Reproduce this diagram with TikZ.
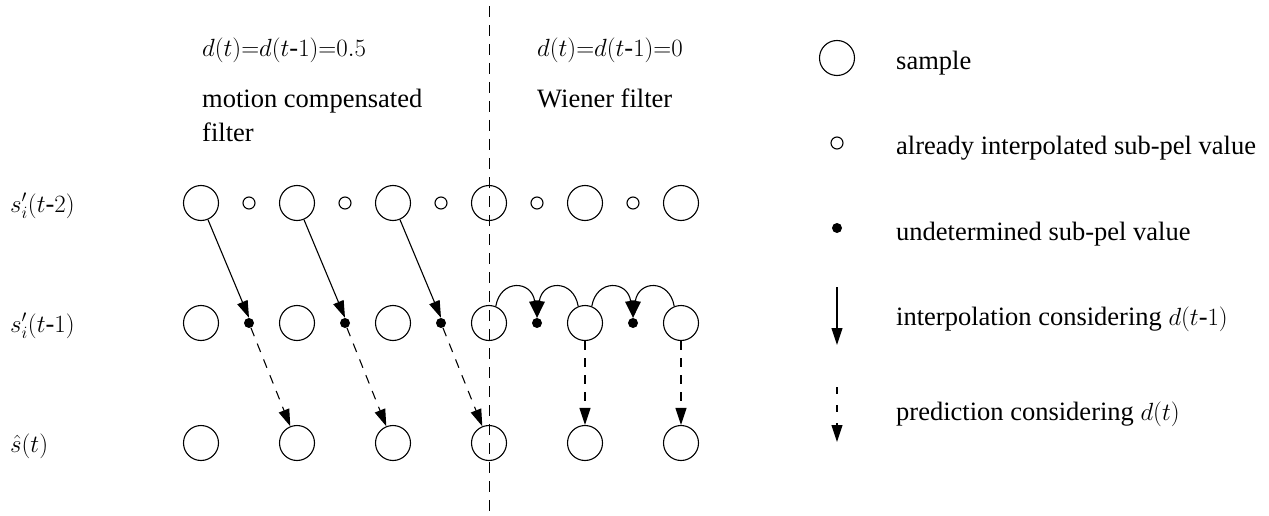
\documentclass[tikz,border=0pt]{standalone}
\usepackage{fontspec}
\setmainfont{Liberation Serif}
\usetikzlibrary{arrows.meta}
\begin{document}
\begin{tikzpicture}[x=1pt,y=-1pt,
  samp/.style={circle,draw,line width=1.1pt,minimum size=35pt,inner sep=0pt},
  subv/.style={circle,draw,line width=1.1pt,minimum size=12pt,inner sep=0pt},
  undet/.style={circle,fill,minimum size=10pt,inner sep=0pt},
  lbl/.style={anchor=base west,inner sep=0pt,font=\fontsize{26.5}{31}\selectfont},
  tip/.style={-{Triangle[length=17pt,width=11pt]}},
  interp/.style={tip,line width=1.1pt},
  pred/.style={tip,line width=1.1pt,dash pattern=on 9pt off 8pt}]
\useasboundingbox (0,0) rectangle (1269,516);
% divider
\coordinate (divtop) at (489,6);
\coordinate (divbot) at (489,514);
\draw[line width=0.9pt,dash pattern=on 11pt off 8pt] (divtop) -- (divbot);
% headers
\node[lbl] (h1) at (202,57) {$d(t)\mathord{=}d(t\mbox{-}1)\mathord{=}0.5$};
\node[lbl] (h2) at (202,108) {motion compensated};
\node[lbl] (h3) at (202,142) {filter};
\node[lbl] (h4) at (537,57) {$d(t)\mathord{=}d(t\mbox{-}1)\mathord{=}0$};
\node[lbl] (h5) at (537,108) {Wiener filter};
% row labels
\node[lbl] (r1) at (10,212) {$s'_i(t\mbox{-}2)$};
\node[lbl] (r2) at (10,332) {$s'_i(t\mbox{-}1)$};
\node[lbl] (r3) at (10,452) {$\hat{s}(t)$};
% samples
\foreach \i/\x in {1/201,2/297,3/393,4/489,5/585,6/681}{
  \node[samp] (a\i) at (\x,203) {};
  \node[samp] (b\i) at (\x,323) {};
  \node[samp] (c\i) at (\x,443) {};
}
\foreach \i/\x in {1/249,2/345,3/441,4/537,5/633}{
  \node[subv] (s\i) at (\x,203) {};
  \node[undet] (u\i) at (\x,323) {};
}
% motion compensated
\foreach \i/\j in {1/2,2/3,3/4}{
  \draw[interp] (a\i) -- (u\i.north);
  \draw[pred] (u\i) -- (c\j);
}
% wiener
\draw[interp] (b4.68) .. controls +(-80:28) and +(-98:38) .. (u4.north);
\draw[interp] (b5.112) .. controls +(-100:28) and +(-82:38) .. (u4.north);
\draw[interp] (b5.68) .. controls +(-80:28) and +(-98:38) .. (u5.north);
\draw[interp] (b6.112) .. controls +(-100:28) and +(-82:38) .. (u5.north);
\draw[pred] (b5) -- (c5);
\draw[pred] (b6) -- (c6);
% legend
\node[samp] (ls) at (837,58) {};
\node[subv] (lv) at (837,143) {};
\node[undet] (lu) at (837,228) {};
\coordinate (li1) at (837,287);
\coordinate (li2) at (837,345);
\coordinate (lp1) at (837,387);
\coordinate (lp2) at (837,442);
\draw[interp] (li1) -- (li2);
\draw[pred,dash pattern=on 7pt off 11pt] (lp1) -- (lp2);
\node[lbl] (t1) at (896,70) {sample};
\node[lbl] (t2) at (896,155) {already interpolated sub-pel value};
\node[lbl] (t3) at (896,240) {undetermined sub-pel value};
\node[lbl] (t4) at (896,325) {interpolation considering $d(t\mbox{-}1)$};
\node[lbl] (t5) at (896,420) {prediction considering $d(t)$};
\end{tikzpicture}
\end{document}
